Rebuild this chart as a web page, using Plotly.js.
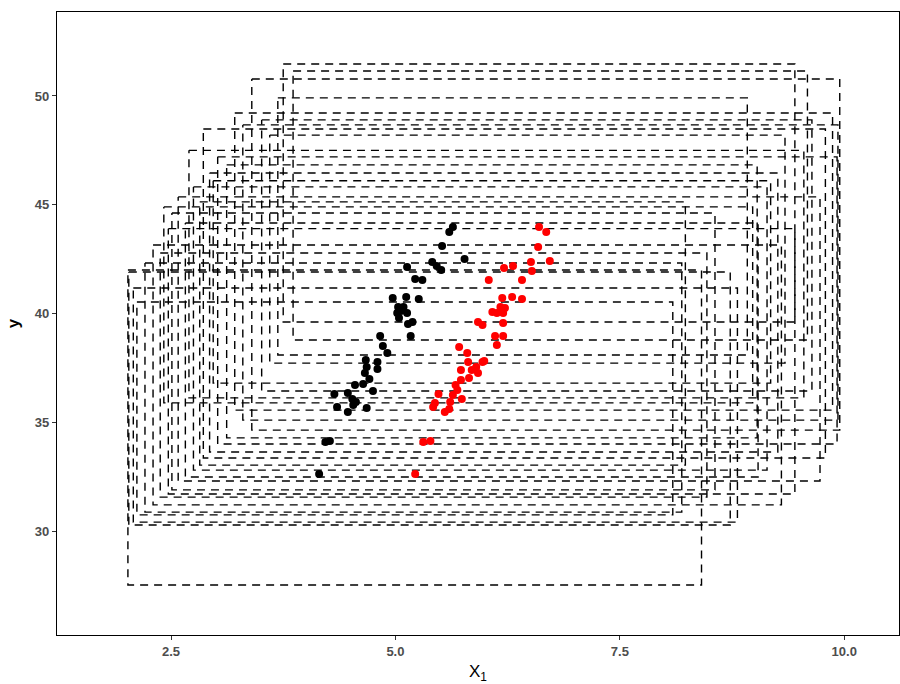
<!DOCTYPE html>
<html>
<head>
<meta charset="utf-8">
<script src="https://cdn.plot.ly/plotly-3.0.1.min.js"></script>
<style>html,body{margin:0;padding:0;background:#fff}#chart{width:900px;height:684px}</style>
</head>
<body>
<div id="chart"></div>
<script>
// Dashed rectangles (xmin, xmax, ymin, ymax)
const rectLeft   = [2.02, 2.03, 2.08, 2.12, 2.21, 2.30, 2.38, 2.47, 2.51, 2.58, 2.66, 2.75, 2.82, 2.86, 2.93, 3.02, 3.12, 3.21, 3.30, 3.40, 3.51, 3.60, 3.69, 3.75, 3.86, 2.42, 2.70, 2.97];
const rectRight  = [8.41, 8.73, 8.81, 8.09, 8.19, 9.30, 8.47, 9.45, 8.56, 9.73, 9.04, 9.14, 8.23, 9.79, 9.26, 9.92, 9.03, 9.87, 9.93, 9.95, 9.64, 9.34, 8.92, 9.45, 9.59, 8.98, 9.55, 9.18];
const rectBottom = [27.52, 30.28, 30.41, 30.74, 30.87, 31.20, 31.56, 31.70, 31.89, 32.30, 32.48, 32.80, 33.03, 33.36, 33.63, 34.00, 34.28, 35.56, 35.10, 34.64, 36.44, 37.72, 38.09, 39.61, 38.78, 35.89, 36.12, 36.80];
const rectTop    = [42.00, 41.91, 41.17, 40.53, 42.32, 43.15, 42.78, 43.90, 44.62, 45.36, 44.16, 45.82, 45.13, 48.48, 46.46, 47.20, 46.83, 49.22, 48.67, 50.78, 48.90, 48.20, 49.91, 51.47, 51.15, 44.90, 47.50, 46.10];

// Black points
const blackX = [5.64, 5.60, 5.52, 5.77, 5.41, 5.46, 5.51, 5.13, 5.22, 5.30, 4.97, 5.12, 5.26, 5.03, 5.09, 5.02, 5.06, 5.13, 5.14, 5.19, 5.04, 4.83, 5.17, 4.86, 4.91, 4.67, 4.80, 4.68, 4.80, 4.66, 4.71, 4.64, 4.55, 4.75, 4.32, 4.47, 4.52, 4.56, 4.53, 4.35, 4.47, 4.68, 4.22, 4.27, 4.15];
const blackY = [43.98, 43.75, 43.10, 42.51, 42.37, 42.18, 42.00, 42.14, 41.59, 41.54, 40.71, 40.76, 40.67, 40.30, 40.30, 40.02, 40.11, 40.02, 39.52, 39.61, 39.79, 38.97, 38.97, 38.51, 38.18, 37.86, 37.77, 37.54, 37.45, 37.26, 36.99, 36.76, 36.71, 36.44, 36.30, 36.34, 36.07, 35.93, 35.79, 35.70, 35.47, 35.66, 34.09, 34.14, 32.62];

// Red points
const redX = [6.60, 6.68, 6.59, 6.72, 6.21, 6.31, 6.51, 6.52, 6.04, 6.41, 6.30, 6.41, 6.19, 6.22, 6.17, 6.20, 6.13, 6.08, 5.92, 5.97, 6.20, 6.11, 6.20, 6.13, 5.71, 5.80, 5.81, 5.97, 5.99, 5.73, 5.85, 5.90, 5.92, 5.82, 5.73, 5.67, 5.69, 5.74, 5.64, 5.48, 5.44, 5.42, 5.61, 5.60, 5.55, 5.31, 5.39, 5.22];
const redY = [43.98, 43.75, 43.06, 42.41, 42.09, 42.18, 42.37, 41.95, 41.54, 41.54, 40.76, 40.67, 40.71, 40.25, 40.30, 40.02, 40.02, 40.07, 39.61, 39.47, 39.56, 38.97, 38.97, 38.55, 38.46, 38.18, 37.77, 37.77, 37.82, 37.40, 37.40, 37.54, 37.26, 37.03, 36.94, 36.71, 36.48, 36.07, 36.25, 36.30, 35.89, 35.70, 35.93, 35.61, 35.47, 34.09, 34.14, 32.62];

const xTicks = [2.5, 5.0, 7.5, 10.0];
const xTickText = ['2.5', '5.0', '7.5', '10.0'];
const yTicks = [30, 35, 40, 45, 50];

const traces = [];
for (let i = 0; i < rectLeft.length; i++) {
  const l = rectLeft[i], r = rectRight[i], b = rectBottom[i], t = rectTop[i];
  traces.push({
    type: 'scatter', mode: 'lines',
    x: [l, r, r, l, l],
    y: [t, t, b, b, t],
    line: {color: '#000', width: 1.4, dash: '8px,6px'},
    hoverinfo: 'skip', showlegend: false
  });
}
traces.push({
  type: 'scatter', mode: 'markers', x: blackX, y: blackY,
  marker: {color: '#000', size: 8}, showlegend: false
});
traces.push({
  type: 'scatter', mode: 'markers', x: redX, y: redY,
  marker: {color: '#ff0000', size: 8}, showlegend: false
});

const layout = {
  width: 900, height: 684,
  margin: {l: 57, r: 1, t: 12, b: 49},
  paper_bgcolor: '#fff', plot_bgcolor: '#fff',
  showlegend: false,
  xaxis: {
    range: [1.23, 10.61], showgrid: false, zeroline: false,
    showline: true, mirror: true, linecolor: '#000', linewidth: 1.2,
    ticks: 'outside', ticklen: 4, tickcolor: '#333', tickwidth: 1,
    tickvals: xTicks, ticktext: xTickText,
    tickfont: {family: 'Liberation Sans, Arial, sans-serif', size: 13, color: '#4d4d4d', weight: 'bold'},
    title: {text: 'X<sub>1</sub>', font: {family: 'Liberation Sans, Arial, sans-serif', size: 17, color: '#000'}, standoff: 12}
  },
  yaxis: {
    range: [25.22, 53.86], showgrid: false, zeroline: false,
    showline: true, mirror: true, linecolor: '#000', linewidth: 1.2,
    ticks: 'outside', ticklen: 4, tickcolor: '#333', tickwidth: 1,
    tickvals: yTicks,
    tickfont: {family: 'Liberation Sans, Arial, sans-serif', size: 13, color: '#4d4d4d', weight: 'bold'},
    title: {text: 'y', font: {family: 'Liberation Sans, Arial, sans-serif', size: 17, color: '#000', weight: 'bold'}, standoff: 10}
  }
};

Plotly.newPlot('chart', traces, layout, {displayModeBar: false, staticPlot: true});
</script>
</body>
</html>
